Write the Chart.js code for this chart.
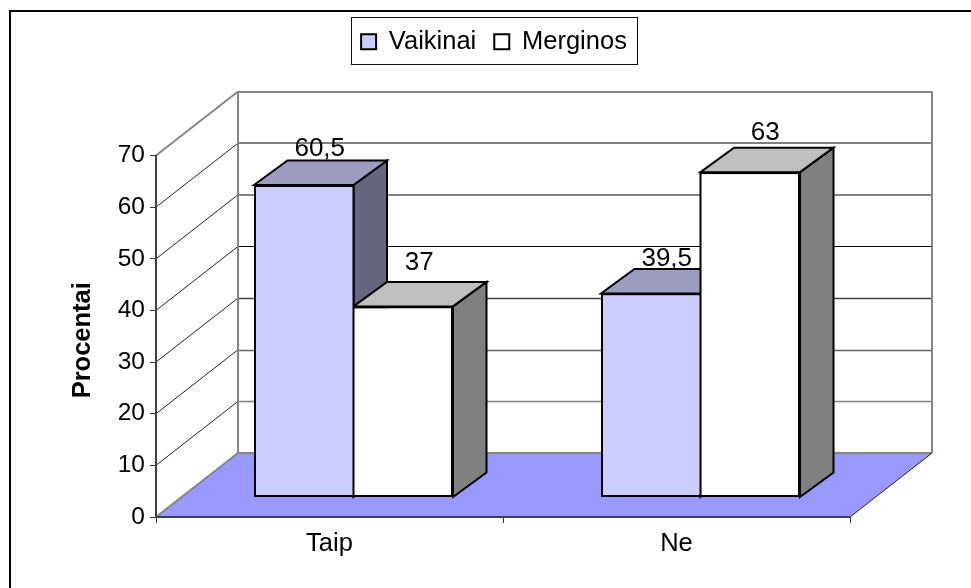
<!DOCTYPE html>
<html>
<head>
<meta charset="utf-8">
<style>html,body{margin:0;padding:0;background:#fff;overflow:hidden}canvas{display:block}</style>
<script src="https://cdn.jsdelivr.net/npm/chart.js@4/dist/chart.umd.js"></script>
</head>
<body>
<canvas id="c" width="971" height="588" style="width:971px;height:588px"></canvas>
<script>
const categories = ['Taip', 'Ne'];
const vaikinai = [60.5, 39.5];
const merginos = [37, 63];
const seriesNames = ['Vaikinai', 'Merginos'];
const axisTitle = 'Procentai';

const FONT = '"Liberation Sans", Arial, sans-serif';
const frontColors = ['#CCCCFF', '#FFFFFF'];
const topColors = ['#9C9CC0', '#BFBFBF'];
const sideColors = ['#666680', '#808080'];
const wallDepth = { x: 82, y: -64 };
const barShift = { x: 24, y: -19.5 };
const barDepth = { x: 33.5, y: -24.5 };
// value-label offsets from the top of each front face, per series and category
const labelShift = [
  [{ x: 16, y: -29.5 }, { x: 16, y: -27.5 }],
  [{ x: 16, y: -36.5 }, { x: 15, y: -32.5 }]
];
// back-wall gridline styling, from value 0 up to value 70
const backStyles = [
  ['#858585', 2], ['#808080', 1.5], ['#666666', 1.5], ['#444444', 1.5],
  ['#000000', 1], ['#808080', 2], ['#808080', 2], ['#858585', 2]
];

function line(ctx, x0, y0, x1, y1, color, width) {
  ctx.strokeStyle = color; ctx.lineWidth = width;
  ctx.beginPath(); ctx.moveTo(x0, y0); ctx.lineTo(x1, y1); ctx.stroke();
}
function poly(ctx, pts, fill) {
  ctx.beginPath();
  pts.forEach((p, i) => i ? ctx.lineTo(p[0], p[1]) : ctx.moveTo(p[0], p[1]));
  ctx.closePath();
  ctx.fillStyle = fill; ctx.fill();
  ctx.strokeStyle = '#000'; ctx.lineWidth = 2; ctx.lineJoin = 'miter'; ctx.stroke();
}

const scene = {
  id: 'scene',
  afterLayout(chart) {
    const lg = chart.legend;
    const h = lg.height;
    lg.left = 0; lg.right = 988; lg.top = 11; lg.bottom = 11 + h;
    const ys = chart.scales.y;
    if (!ys._titleShifted) {
      const orig = ys.drawTitle;
      ys.drawTitle = function () {
        this.ctx.save(); this.ctx.translate(0, 4); orig.call(this); this.ctx.restore();
      };
      ys._titleShifted = true;
    }
  },
  beforeDraw(chart) {
    const ctx = chart.ctx, x = chart.scales.x, y = chart.scales.y;
    ctx.save();
    ctx.fillStyle = '#fff'; ctx.fillRect(0, 0, chart.width, chart.height);
    // outer frame: its right and bottom sides fall outside the picture
    line(ctx, 10, 11, 971, 11, '#000', 2);
    line(ctx, 10, 10, 10, 588, '#000', 2);
    // legend frame
    ctx.strokeStyle = '#111'; ctx.lineWidth = 1;
    ctx.strokeRect(351.5, 17.5, 286, 47);

    const y0 = y.getPixelForValue(0);
    // floor
    ctx.beginPath();
    ctx.moveTo(x.left, y0); ctx.lineTo(x.right, y0);
    ctx.lineTo(x.right + wallDepth.x, y0 + wallDepth.y);
    ctx.lineTo(x.left + wallDepth.x, y0 + wallDepth.y);
    ctx.closePath(); ctx.fillStyle = '#9999FF'; ctx.fill();
    // gridlines on the side wall and the back wall
    y.ticks.forEach((t, i) => {
      const py = y.getPixelForValue(t.value);
      const bx = x.left + wallDepth.x, by = py + wallDepth.y;
      const edge = i === 0 || i === y.ticks.length - 1;
      line(ctx, x.left, py, bx, by, edge ? '#858585' : '#222', edge ? 2 : 1);
      const st = backStyles[i];
      const cy = st[1] === 2 ? Math.round(by) : Math.round(by) + 0.5;
      line(ctx, bx, cy, x.right + wallDepth.x, cy, st[0], st[1]);
    });
    const ty = y.getPixelForValue(70) + wallDepth.y;
    line(ctx, x.left + wallDepth.x, ty, x.left + wallDepth.x, y0 + wallDepth.y, '#858585', 2);
    line(ctx, x.right + wallDepth.x, ty, x.right + wallDepth.x, y0 + wallDepth.y, '#858585', 2);
    line(ctx, x.right, y0, x.right + wallDepth.x, y0 + wallDepth.y, '#1a1a40', 1);
    ctx.restore();
  },
  beforeDatasetsDraw(chart) {
    const ctx = chart.ctx;
    ctx.save();
    ctx.translate(barShift.x, barShift.y);
    chart.data.datasets.forEach((ds, di) => {
      chart.getDatasetMeta(di).data.forEach(el => {
        const b = el.getProps(['x', 'y', 'base', 'width'], true);
        const l = b.x - b.width / 2, r = b.x + b.width / 2;
        const dx = barDepth.x, dy = barDepth.y;
        poly(ctx, [[r, b.base], [r + dx, b.base + dy], [r + dx, b.y + dy], [r, b.y]], sideColors[di]);
        poly(ctx, [[l, b.y], [l + dx, b.y + dy], [r + dx, b.y + dy], [r, b.y]], topColors[di]);
      });
    });
  },
  afterDatasetsDraw(chart) {
    const ctx = chart.ctx;
    // shared edge between the two front faces of each group
    chart.getDatasetMeta(1).data.forEach((el, i) => {
      const b = el.getProps(['x', 'y', 'base', 'width'], true);
      const a = chart.getDatasetMeta(0).data[i].getProps(['y'], true);
      const e = b.x - b.width / 2;
      line(ctx, e, Math.min(a.y, b.y), e, b.base, '#000', 2);
    });
    ctx.restore();
    ctx.save();
    ctx.font = '26px ' + FONT;
    ctx.fillStyle = '#000';
    ctx.textAlign = 'center';
    ctx.textBaseline = 'alphabetic';
    chart.data.datasets.forEach((ds, di) => {
      chart.getDatasetMeta(di).data.forEach((el, i) => {
        const b = el.getProps(['x', 'y'], true);
        const s = labelShift[di][i];
        ctx.fillText(String(ds.data[i]).replace('.', ','),
          b.x + barShift.x + s.x, b.y + barShift.y + s.y);
      });
    });
    ctx.restore();
  }
};

new Chart(document.getElementById('c'), {
  type: 'bar',
  data: {
    labels: categories,
    datasets: [
      { label: seriesNames[0], data: vaikinai, backgroundColor: frontColors[0], borderColor: '#000', borderWidth: { top: 2, right: 0, bottom: 2, left: 2 }, borderSkipped: false },
      { label: seriesNames[1], data: merginos, backgroundColor: frontColors[1], borderColor: '#000', borderWidth: { top: 2, right: 2, bottom: 2, left: 0 }, borderSkipped: false }
    ]
  },
  plugins: [scene],
  options: {
    responsive: false,
    animation: false,
    categoryPercentage: 0.5735,
    barPercentage: 1,
    layout: { padding: { top: 102, right: 121, bottom: 0, left: 0 } },
    plugins: {
      tooltip: { enabled: false },
      legend: {
        position: 'top',
        labels: {
          boxWidth: 15, boxHeight: 15, padding: 18, color: '#000',
          font: { family: FONT, size: 25.5 },
          generateLabels(chart) {
            return Chart.defaults.plugins.legend.labels.generateLabels(chart)
              .map(item => Object.assign(item, { lineWidth: 2 }));
          }
        }
      }
    },
    scales: {
      x: {
        afterFit(s) { s.height = 71; },
        grid: { drawOnChartArea: false, drawTicks: true, tickLength: 6, color: '#333', offset: true },
        border: { color: '#404040', width: 2 },
        ticks: { color: '#000', font: { family: FONT, size: 25.5 }, padding: 6, maxRotation: 0 }
      },
      y: {
        min: 0, max: 70,
        afterFit(s) { s.width = 156; },
        grid: { drawOnChartArea: false, drawTicks: true, tickLength: 6, color: '#333' },
        border: { color: '#404040', width: 2 },
        ticks: { stepSize: 10, color: '#000', font: { family: FONT, size: 24.5 }, padding: 5 },
        title: {
          display: true, text: axisTitle, color: '#000',
          font: { family: FONT, size: 25.5, weight: 'bold' },
          padding: { top: 68, bottom: 0 }
        }
      }
    }
  }
});
</script>
</body>
</html>
